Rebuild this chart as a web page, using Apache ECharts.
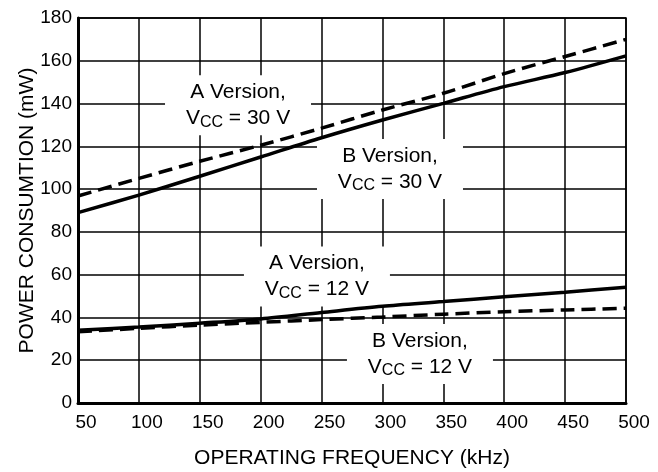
<!DOCTYPE html>
<html>
<head>
<meta charset="utf-8">
<script src="https://cdn.jsdelivr.net/npm/echarts@6/dist/echarts.min.js"></script>
<style>
  html, body { margin: 0; padding: 0; background: #fff; }
  #chart { width: 658px; height: 472px; }
</style>
</head>
<body>
<div id="chart"></div>
<script>
// frequency (kHz)
const freq = [50, 100, 150, 200, 250, 300, 350, 400, 450, 500]
// power consumption (mW)
const a30 = [96.8, 105, 113, 120.5, 128.5, 137, 144.8, 154, 162, 170]
const b30 = [89, 97.2, 106, 115, 124, 132.3, 140.1, 147.9, 154.5, 162.3]
const a12 = [34, 35.5, 37.3, 39.3, 42.3, 45.2, 47.4, 49.7, 51.8, 54.1]
const b12 = [33.3, 34.9, 36.4, 37.7, 39, 40.2, 41.5, 42.7, 43.5, 44.3]

// callout labels: [freq, power, version, vcc]
const notes = [
  [181.4, 139.2, 'A', '30'],
  [306.2, 109.4, 'B', '30'],
  [246.2, 59.1, 'A', '12'],
  [330.8, 22.9, 'B', '12']
]

const font = 'Liberation Sans, Arial, Helvetica, sans-serif'

function pairs(ys) {
  return freq.map((x, i) => [x, ys[i]])
}

let myEchart = echarts.init(document.getElementById('chart'))

function curve(ys, dashed) {
  return {
    type: 'line',
    data: pairs(ys),
    symbol: 'none',
    smooth: 0.3,
    z: 3,
    lineStyle: {
      color: '#000',
      width: 3.5,
      type: dashed ? [14, 7] : 'solid',
      cap: 'butt'
    }
  }
}

myEchart.setOption({
  animation: false,
  backgroundColor: '#fff',
  textStyle: { fontFamily: font, color: '#000' },
  grid: {
    left: 78, right: 32, top: 18, bottom: 69,
    outerBoundsMode: 'none',
    containLabel: false,
    show: true,
    borderColor: '#000',
    borderWidth: 1.5,
    backgroundColor: 'transparent'
  },
  xAxis: {
    type: 'value',
    min: 50, max: 500, interval: 50,
    name: 'OPERATING FREQUENCY (kHz)',
    nameLocation: 'middle',
    nameGap: 45,
    nameMoveOverlap: false,
    nameTextStyle: { fontSize: 21, fontFamily: font, color: '#000' },
    axisLine: { show: true, lineStyle: { color: '#000', width: 3 } },
    axisTick: { show: false },
    axisLabel: { fontSize: 19, fontFamily: font, color: '#000', margin: 10, padding: [0, 0, 0, 16] },
    splitLine: { show: true, lineStyle: { color: '#000', width: 1.5 } }
  },
  yAxis: {
    type: 'value',
    min: 0, max: 180, interval: 20,
    name: 'POWER CONSUMTION (mW)',
    nameLocation: 'middle',
    nameGap: 40,
    nameMoveOverlap: false,
    nameTextStyle: { fontSize: 21, fontFamily: font, color: '#000' },
    axisLine: { show: true, lineStyle: { color: '#000', width: 3 } },
    axisTick: { show: false },
    axisLabel: { fontSize: 19, fontFamily: font, color: '#000', margin: 6 },
    splitLine: { show: true, lineStyle: { color: '#000', width: 1.5 } }
  },
  series: [
    curve(a30, true),
    curve(b30, false),
    curve(a12, false),
    curve(b12, true),
    {
      type: 'scatter',
      symbol: 'rect',
      symbolSize: [146, 60],
      z: 1,
      silent: true,
      itemStyle: { color: '#fff', opacity: 1 },
      data: notes.map(n => ({ value: [n[0], n[1]], ver: n[2], vcc: n[3] })),
      label: {
        show: true,
        position: 'inside',
        opacity: 1,
        color: '#000',
        textBorderWidth: 0,
        align: 'center',
        verticalAlign: 'middle',
        formatter: p => '{t|' + p.data.ver + ' Version,}\n{t|V}{s|CC}{t| = ' + p.data.vcc + ' V}',
        rich: {
          t: { fontSize: 21, lineHeight: 26, fontFamily: font, color: '#000', textBorderWidth: 0 },
          s: { fontSize: 16, lineHeight: 26, fontFamily: font, color: '#000', textBorderWidth: 0, padding: [8, 0, 0, 0] }
        }
      }
    }
  ]
})
</script>
</body>
</html>
